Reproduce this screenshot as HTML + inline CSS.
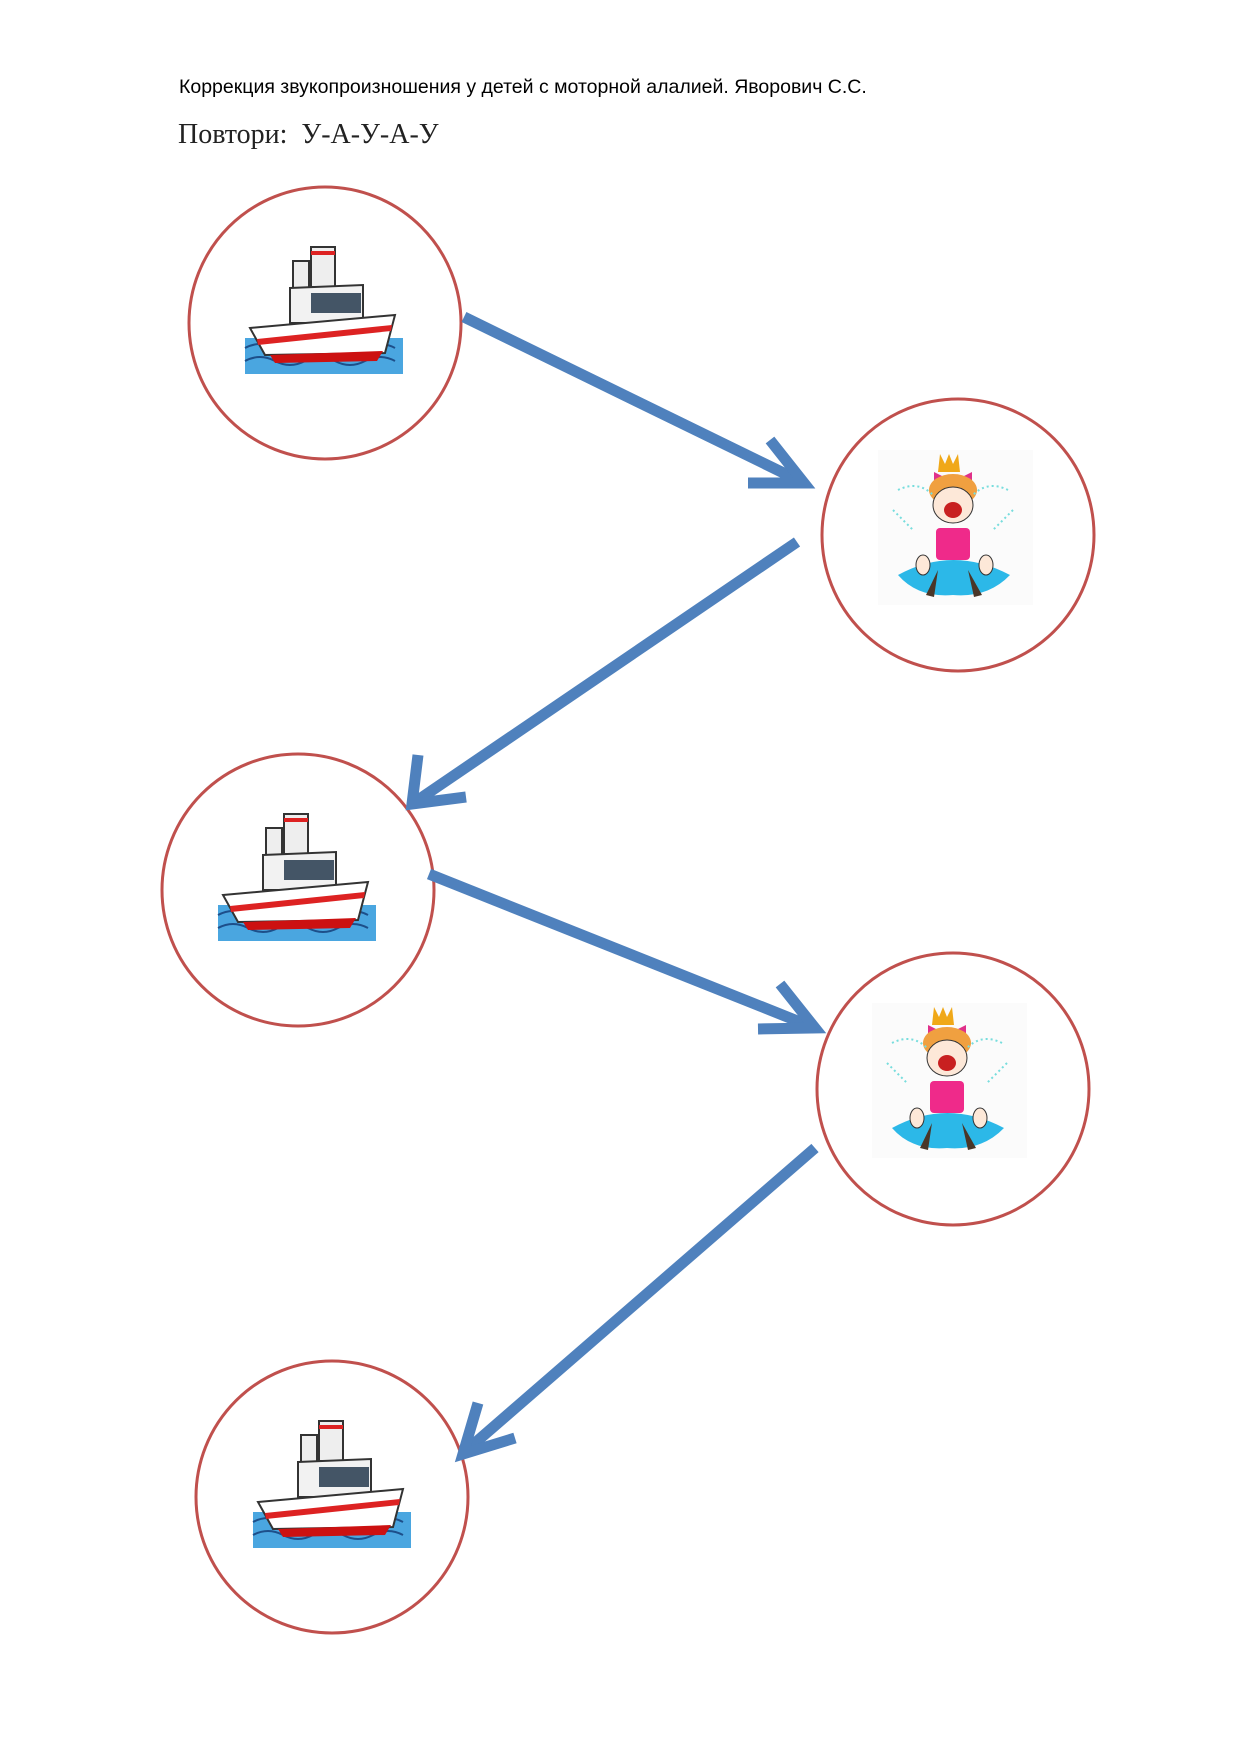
<!DOCTYPE html>
<html><head><meta charset="utf-8"><style>
html,body{margin:0;padding:0;background:#fff;}
.t1{position:absolute;left:179px;top:76px;font-family:"Liberation Sans",sans-serif;font-size:19.5px;color:#000;}
.t2{position:absolute;left:178px;top:119px;font-family:"Liberation Serif",serif;font-size:28px;color:#222;}
</style></head><body>
<div style="position:relative;width:1240px;height:1754px;">
<div class="t1">Коррекция звукопроизношения у детей с моторной алалией. Яворович С.С.</div>
<div class="t2">Повтори:&nbsp; У-А-У-А-У</div>
<svg width="1240" height="1754" style="position:absolute;left:0;top:0">
<defs>
<g id="ship">
 <rect x="0" y="95" width="158" height="36" fill="#4aa6e0"/>
 <path d="M0 105 q15 -8 30 0 t30 0 t30 0 t30 0 t30 0 M0 118 q15 -8 30 0 t30 0 t30 0 t30 0 t30 0" stroke="#1d4f8a" stroke-width="2" fill="none"/>
 <rect x="48" y="18" width="16" height="30" fill="#eee" stroke="#333" stroke-width="2"/>
 <rect x="66" y="4" width="24" height="40" fill="#eee" stroke="#333" stroke-width="2"/>
 <rect x="66" y="8" width="24" height="4" fill="#d22"/>
 <path d="M45 45 L118 42 L118 80 L45 80 Z" fill="#f2f2f2" stroke="#333" stroke-width="2"/>
 <rect x="66" y="50" width="50" height="20" fill="#456"/>
 <path d="M5 85 L150 72 L140 110 L20 112 Z" fill="#fff" stroke="#333" stroke-width="2"/>
 <path d="M12 96 L147 82 L146 88 L13 102 Z" fill="#d22"/>
 <path d="M25 112 L138 108 L132 118 L30 120 Z" fill="#c11"/>
</g>
<g id="girl">
 <rect x="0" y="0" width="155" height="155" fill="#fbfbfb"/>
 <path d="M62 4 l5 10 l4 -10 l4 10 l5 -10 l2 18 h-22 z" fill="#f0a818"/>
 <path d="M56 22 l12 6 l-12 6 z M94 22 l-12 6 l12 6 z" fill="#e0308a"/>
 <ellipse cx="75" cy="40" rx="24" ry="16" fill="#f0a040"/>
 <ellipse cx="75" cy="55" rx="20" ry="18" fill="#fde8d8" stroke="#333" stroke-width="1"/>
 <ellipse cx="75" cy="60" rx="9" ry="8" fill="#c82020"/>
 <path d="M20 40 q20 -10 35 5 M130 40 q-20 -10 -35 5 M15 60 q10 10 20 20 M135 60 q-10 10 -20 20" stroke="#7dd" stroke-width="2" fill="none" stroke-dasharray="2 3"/>
 <rect x="58" y="78" width="34" height="32" rx="4" fill="#ef2a8a"/>
 <path d="M20 125 Q75 95 132 125 Q110 148 75 145 Q40 148 20 125 Z" fill="#2cb8e8"/>
 <ellipse cx="45" cy="115" rx="7" ry="10" fill="#fde8d8" stroke="#333"/>
 <ellipse cx="108" cy="115" rx="7" ry="10" fill="#fde8d8" stroke="#333"/>
 <path d="M60 120 l-12 25 l8 2 z M90 120 l6 27 l8 -2 z" fill="#4a3628"/>
</g>
</defs>
<g fill="none" stroke="#c0504d" stroke-width="3">
 <circle cx="325" cy="323" r="136"/>
 <circle cx="958" cy="535" r="136"/>
 <circle cx="298" cy="890" r="136"/>
 <circle cx="953" cy="1089" r="136"/>
 <circle cx="332" cy="1497" r="136"/>
</g>
<use href="#ship" x="245" y="243"/>
<use href="#ship" x="218" y="810"/>
<use href="#ship" x="253" y="1417"/>
<use href="#girl" x="878" y="450"/>
<use href="#girl" x="872" y="1003"/>
<g stroke="#4f81bd" stroke-width="11" fill="none" stroke-linecap="butt" stroke-linejoin="miter">
 <line x1="464" y1="317" x2="800" y2="481"/>
 <polyline points="770,440 804,483 748,483"/>
 <line x1="797" y1="542" x2="418" y2="800"/>
 <polyline points="418,755 412,804 466,797"/>
 <line x1="429" y1="874" x2="810" y2="1026"/>
 <polyline points="780,984 815,1028 758,1029"/>
 <line x1="815" y1="1148" x2="468" y2="1449"/>
 <polyline points="478,1403 463,1454 515,1438"/>
</g>
</svg>
</div>
</body></html>
